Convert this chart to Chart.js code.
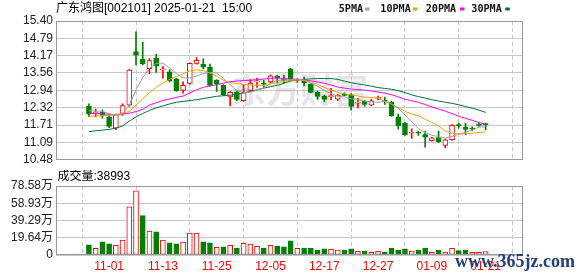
<!DOCTYPE html>
<html>
<head>
<meta charset="UTF-8">
<title>广东鸿图 K线</title>
<script src="https://cdn.jsdelivr.net/npm/chart.js@4.4.1/dist/chart.umd.min.js"></script>
<style>
  body { margin: 0; background: #fff; }
  #wrap { position: relative; width: 578px; height: 276px; overflow: hidden; }
  #kline { position: absolute; left: 0; top: 0; }
  #vol { position: absolute; left: 0; top: 170px; }
</style>
<script>
var dates = ['10-29','10-30','10-31','11-01','11-04','11-05','11-06','11-07','11-08','11-11',
             '11-12','11-13','11-14','11-15','11-18','11-19','11-20','11-21','11-22','11-25',
             '11-26','11-27','11-28','11-29','12-02','12-03','12-04','12-05','12-06','12-09',
             '12-10','12-11','12-12','12-13','12-16','12-17','12-18','12-19','12-20','12-23',
             '12-24','12-25','12-26','12-27','12-30','12-31','01-02','01-03','01-06','01-07',
             '01-08','01-09','01-10','01-13','01-14','01-15','01-16','01-17','01-20','01-21'];

var openP  = [12.38,12.14,12.17,12.00,11.60,12.12,12.42,14.32,14.04,13.71,
              14.08,13.67,13.60,13.35,12.94,13.19,13.90,13.87,13.76,13.30,
              13.12,12.71,12.89,12.58,12.94,13.24,13.18,13.24,13.45,13.36,
              13.70,13.29,13.29,13.16,12.88,12.75,12.72,12.63,12.81,12.78,
              12.49,12.56,12.42,12.66,12.57,12.53,12.00,11.78,11.42,11.44,
              11.37,11.16,11.27,10.99,11.19,11.71,11.64,11.59,11.71,11.76];
var highP  = [12.46,12.28,12.25,12.05,12.10,12.46,13.68,15.02,14.64,14.07,
              14.22,13.78,13.68,13.38,13.24,13.92,14.10,14.06,13.87,13.32,
              13.15,12.90,12.93,13.15,13.32,13.38,13.30,13.49,13.48,13.48,
              13.72,13.35,13.41,13.18,12.92,12.77,13.01,12.79,12.85,12.83,
              12.66,12.58,12.63,12.74,12.70,12.55,12.10,11.80,11.58,11.50,
              11.50,11.28,11.50,11.22,11.73,11.78,11.78,11.65,11.78,11.78];
var lowP   = [12.02,12.00,11.96,11.62,11.55,12.05,12.38,13.84,13.84,13.53,
              13.58,13.37,13.24,12.90,12.84,13.16,13.87,13.70,13.09,12.90,
              12.76,12.39,12.58,12.55,12.92,13.05,13.05,13.20,13.20,13.20,
              13.28,13.22,13.10,12.85,12.63,12.53,12.61,12.58,12.74,12.24,
              12.32,12.38,12.40,12.60,12.44,12.02,11.57,11.34,11.24,11.34,
              10.93,11.14,11.09,10.90,11.18,11.60,11.37,11.51,11.66,11.55];
var closeP = [12.10,12.17,12.05,11.66,12.08,12.40,13.66,14.19,13.88,14.00,
              13.80,13.69,13.28,12.93,13.12,13.90,14.01,13.76,13.12,13.17,
              12.79,12.87,12.62,12.86,13.20,13.26,13.16,13.46,13.37,13.30,
              13.33,13.31,13.21,12.87,12.73,12.62,12.74,12.77,12.76,12.37,
              12.51,12.44,12.57,12.68,12.55,12.04,11.69,11.37,11.44,11.42,
              11.28,11.26,11.11,11.19,11.70,11.69,11.56,11.57,11.70,11.72];

var ma5  = [12.22,12.21,12.20,12.12,12.06,12.08,12.42,12.95,13.40,13.72,
            13.90,13.91,13.73,13.54,13.38,13.38,13.45,13.54,13.58,13.56,
            13.37,13.14,12.93,12.87,12.87,12.96,13.02,13.19,13.29,13.31,
            13.32,13.35,13.30,13.20,13.09,12.94,12.83,12.73,12.71,12.64,
            12.62,12.56,12.53,12.52,12.55,12.46,12.31,12.07,11.82,11.59,
            11.44,11.35,11.30,11.25,11.31,11.39,11.45,11.54,11.64,11.65];
var ma10 = [12.02,12.03,12.04,12.05,12.07,12.13,12.19,12.42,12.64,12.86,
            13.05,13.20,13.33,13.43,13.53,13.63,13.67,13.64,13.56,13.44,
            13.30,13.22,13.18,13.15,13.13,13.12,13.12,13.16,13.21,13.26,
            13.30,13.31,13.29,13.24,13.15,13.05,12.95,12.87,12.82,12.78,
            12.74,12.70,12.69,12.68,12.55,12.45,12.33,12.20,12.10,12.04,
            11.92,11.80,11.68,11.50,11.42,11.39,11.40,11.42,11.45,11.47];
var ma20 = [12.13,12.12,12.11,12.09,12.07,12.10,12.13,12.19,12.27,12.42,
            12.50,12.58,12.64,12.69,12.74,12.85,12.96,13.05,13.10,13.14,
            13.20,13.25,13.27,13.29,13.30,13.32,13.34,13.37,13.38,13.36,
            13.34,13.33,13.31,13.28,13.24,13.19,13.13,13.06,13.02,12.99,
            12.97,12.95,12.92,12.88,12.84,12.79,12.71,12.63,12.57,12.52,
            12.44,12.35,12.28,12.20,12.12,12.02,11.95,11.88,11.80,11.73];
var ma30 = [11.48,11.51,11.53,11.56,11.60,11.68,11.85,12.00,12.12,12.23,
            12.32,12.39,12.46,12.52,12.55,12.58,12.61,12.65,12.69,12.73,
            12.75,12.77,12.80,12.85,12.90,12.96,13.02,13.07,13.12,13.19,
            13.28,13.31,13.33,13.35,13.36,13.36,13.36,13.33,13.27,13.21,
            13.17,13.13,13.09,13.04,13.01,12.98,12.93,12.86,12.78,12.72,
            12.67,12.61,12.56,12.52,12.48,12.43,12.37,12.31,12.24,12.16];

var volume = [115000,77000,150000,126000,111000,169000,548000,732000,448000,272000,
              264000,169000,138000,126000,146000,249000,249000,150000,138000,88000,
              92000,111000,80000,134000,123000,100000,80000,111000,103000,92000,
              161000,77000,80000,80000,57000,69000,65000,57000,57000,69000,
              42000,46000,31000,42000,34000,80000,57000,69000,46000,57000,
              80000,31000,57000,34000,77000,50000,57000,31000,31000,38993];
// 1 = red hollow volume bar, 0 = green filled
var volUp = [0,1,0,0,1,1,1,1,0,1, 0,1,0,0,1,1,1,0,0,1,
             0,1,0,1,1,1,0,1,0,0, 0,1,0,0,0,0,1,1,0,0,
             1,0,1,1,0,0,0,0,1,0, 0,1,0,1,1,0,0,1,1,1];

var priceTicks = [10.48, 11.09, 11.71, 12.32, 12.94, 13.56, 14.17, 14.79, 15.40];
var volTicks = [0, 196450, 392900, 589350, 785800];
var volTickLabels = ['0', '19.64万', '39.29万', '58.93万', '78.58万'];
var xTickDates = ['11-01', '11-13', '11-25', '12-05', '12-17', '12-27', '01-09', '01-21'];

var seriesNames = ['5PMA', '10PMA', '20PMA', '30PMA'];
var seriesColors = ['#a0a0a0', '#f2a200', '#ff00ff', '#00703a'];

var title = '广东鸿图[002101] 2025-01-21  15:00';
var RED = '#ff0000', GREEN = '#008000';
var FONT = '"Liberation Sans", "Noto Sans CJK SC", sans-serif';
var xMin = -0.56, xMax = 60.17;
// legend text / swatch positions in the header strip
var legendX = [338.7, 380.3, 425.7, 471.3];
var swatchX = [365.0, 413.0, 460.0, 505.3];
</script>
</head>
<body>
<div id="wrap">
  <canvas id="kline" width="578" height="170"></canvas>
  <canvas id="vol" width="578" height="106"></canvas>
</div>
<script>
function pts(arr) {
  return arr.map(function (v, i) { return { x: i, y: v }; });
}
var xTickIdx = xTickDates.map(function (d) { return dates.indexOf(d); });

var frame = {
  id: 'frame',
  afterDatasetsDraw: function (chart) {
    var a = chart.chartArea, ctx = chart.ctx;
    ctx.save();
    ctx.strokeStyle = '#999';
    ctx.lineWidth = 1;
    ctx.strokeRect(Math.round(a.left) + 0.5, Math.round(a.top) + 0.5,
                   Math.round(a.right - a.left) - 1, Math.round(a.bottom - a.top) - 1);
    ctx.restore();
  }
};

var priceDecor = {
  id: 'priceDecor',
  beforeDatasetsDraw: function (chart) {
    var ctx = chart.ctx;
    ctx.save();
    ctx.fillStyle = 'rgba(170,170,175,0.3)';
    ctx.font = 'bold 34px "Noto Sans CJK SC"';
    ctx.textBaseline = 'middle';
    ctx.fillText('东方财富', 232, 90);
    ctx.restore();
  },
  afterDraw: function (chart) {
    var ctx = chart.ctx;
    ctx.save();
    ctx.fillStyle = '#000';
    ctx.textBaseline = 'middle';
    ctx.font = '12px ' + FONT;
    ctx.fillText(title, 56, 9);
    // legend
    ctx.font = 'bold 11px "DejaVu Sans Mono"';
    for (var i = 0; i < seriesNames.length; i++) {
      ctx.fillStyle = '#111';
      ctx.save();
      ctx.translate(legendX[i], 9);
      ctx.scale(0.92, 1);
      ctx.fillText(seriesNames[i], 0, 0);
      ctx.restore();
      ctx.fillStyle = seriesColors[i];
      ctx.fillRect(swatchX[i], 7.5, 4.5, 3);
    }
    ctx.restore();
  }
};

var volDecor = {
  id: 'volDecor',
  afterDraw: function (chart) {
    var ctx = chart.ctx;
    ctx.save();
    ctx.textBaseline = 'middle';
    ctx.fillStyle = '#000';
    ctx.font = '12px ' + FONT;
    ctx.fillText('成交量:' + volume[volume.length - 1], 57.5, 7);
    ctx.font = 'bold 18px "Liberation Serif"';
    ctx.fillStyle = '#23407f';
    ctx.fillText('www.365jz.com', 455, 92);
    ctx.restore();
  }
};

var xAxisBase = {
  type: 'linear',
  min: xMin,
  max: xMax,
  afterBuildTicks: function (s) {
    s.ticks = xTickIdx.map(function (v) { return { value: v }; });
  },
  grid: { color: '#c8c8c8', drawTicks: false },
  border: { display: false, dash: [4, 3] }
};

var candleUp = openP.map(function (o, i) { return closeP[i] >= o; });

var kline = new Chart(document.getElementById('kline'), {
  type: 'bar',
  data: {
    datasets: [
      { type: 'line', label: seriesNames[0], data: pts(ma5), borderColor: seriesColors[0], order: 1 },
      { type: 'line', label: seriesNames[1], data: pts(ma10), borderColor: seriesColors[1], order: 1 },
      { type: 'line', label: seriesNames[2], data: pts(ma20), borderColor: seriesColors[2], order: 1 },
      { type: 'line', label: seriesNames[3], data: pts(ma30), borderColor: seriesColors[3], order: 1 },
      {
        label: 'body',
        data: openP.map(function (o, i) { return { x: i, y: [o, closeP[i]] }; }),
        backgroundColor: candleUp.map(function (u) { return u ? '#fff' : GREEN; }),
        borderColor: candleUp.map(function (u) { return u ? RED : GREEN; }),
        borderWidth: 1, borderSkipped: false, barThickness: 5, minBarLength: 1,
        grouped: false, order: 2
      },
      {
        label: 'wick',
        data: lowP.map(function (l, i) { return { x: i, y: [l, highP[i]] }; }),
        backgroundColor: candleUp.map(function (u) { return u ? RED : GREEN; }),
        borderWidth: 0, barThickness: 1, grouped: false, order: 3
      }
    ]
  },
  options: {
    responsive: false,
    animation: false,
    events: [],
    devicePixelRatio: 1,
    layout: { padding: { top: 21, right: 55.3, bottom: 5, left: 0 } },
    elements: {
      line: { borderWidth: 1, tension: 0 },
      point: { radius: 0 }
    },
    plugins: { legend: { display: false }, tooltip: { enabled: false } },
    scales: {
      x: Object.assign({}, xAxisBase, {
        ticks: { display: false },
        afterFit: function (s) { s.height = 0; }
      }),
      y: {
        min: 10.48,
        max: 15.40,
        afterBuildTicks: function (s) {
          s.ticks = priceTicks.map(function (v) { return { value: v }; });
        },
        afterFit: function (s) { s.width = 56; },
        ticks: {
          padding: 3,
          autoSkip: false,
          color: '#222',
          font: { family: FONT, size: 12 },
          callback: function (v) { return v.toFixed(2); }
        },
        grid: { color: '#c8c8c8', drawTicks: false },
        border: { display: false }
      }
    }
  },
  plugins: [priceDecor, frame]
});

var vol = new Chart(document.getElementById('vol'), {
  type: 'bar',
  data: {
    datasets: [{
      label: 'volume',
      data: pts(volume),
      backgroundColor: volUp.map(function (u) { return u ? '#fff' : GREEN; }),
      borderColor: volUp.map(function (u) { return u ? RED : GREEN; }),
      borderWidth: 1, borderSkipped: false, barThickness: 5
    }]
  },
  options: {
    responsive: false,
    animation: false,
    events: [],
    devicePixelRatio: 1,
    layout: { padding: { top: 16, right: 55.3, bottom: 0, left: 0 } },
    plugins: { legend: { display: false }, tooltip: { enabled: false } },
    scales: {
      x: Object.assign({}, xAxisBase, {
        afterFit: function (s) { s.height = 21; },
        ticks: {
          padding: 4,
          color: RED,
          maxRotation: 0,
          autoSkip: false,
          font: { family: FONT, size: 12 },
          callback: function (v) { return dates[v]; }
        }
      }),
      y: {
        min: 0,
        max: 785800,
        afterBuildTicks: function (s) {
          s.ticks = volTicks.map(function (v) { return { value: v }; });
        },
        afterFit: function (s) { s.width = 56; },
        ticks: {
          padding: 3,
          autoSkip: false,
          color: '#222',
          font: { family: FONT, size: 12 },
          callback: function (v, i) { return volTickLabels[i]; }
        },
        grid: { color: '#c8c8c8', drawTicks: false },
        border: { display: false }
      }
    }
  },
  plugins: [volDecor, frame]
});
</script>
</body>
</html>
